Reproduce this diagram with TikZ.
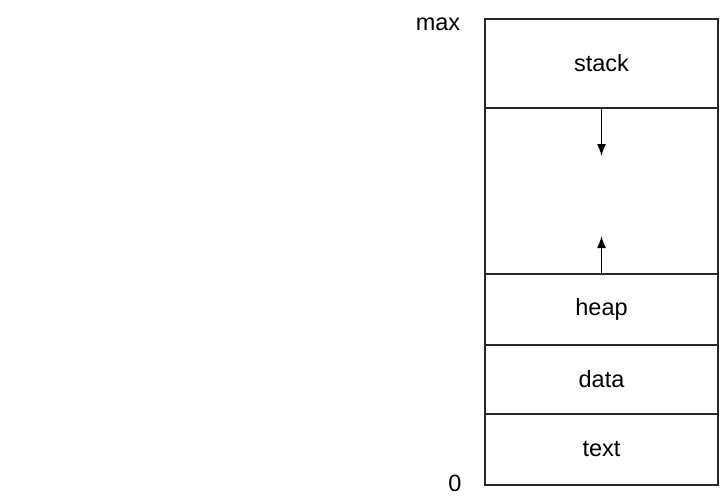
\documentclass[tikz,border=0pt]{standalone}
\usepackage{fontspec}
\setmainfont{Liberation Sans}
\usetikzlibrary{arrows.meta}
\begin{document}
\begin{tikzpicture}[x=1pt,y=-1pt,
  seg/.style={draw=black!85, line width=1.2pt, minimum width=233pt, inner sep=0pt, font=\fontsize{23.5}{28}\selectfont},
  lbl/.style={inner sep=0pt, font=\fontsize{23.5}{28}\selectfont},
  arr/.style={line width=1.6pt, -{Latex[length=12pt,width=9pt]}}]
\useasboundingbox (0,0) rectangle (722,496);
\node[seg, minimum height=89pt] (stack) at (601.5,63.5) {stack};
\node[seg, minimum height=166pt] (free) at (601.5,191) {};
\node[seg, minimum height=71pt] (heap) at (601.5,309.5) {heap};
\node[seg, minimum height=69pt] (data) at (601.5,379.5) {data};
\node[seg, minimum height=71pt] (text) at (601.5,449.5) {text};
\node[lbl] (max) at (438,24) {max};
\node[lbl] (zero) at (455,483.5) {0};
\coordinate (dtip) at (601.5,156);
\coordinate (utip) at (601.5,236);
\draw[arr] (stack.south) -- (dtip);
\draw[arr] (heap.north) -- (utip);
\end{tikzpicture}
\end{document}
